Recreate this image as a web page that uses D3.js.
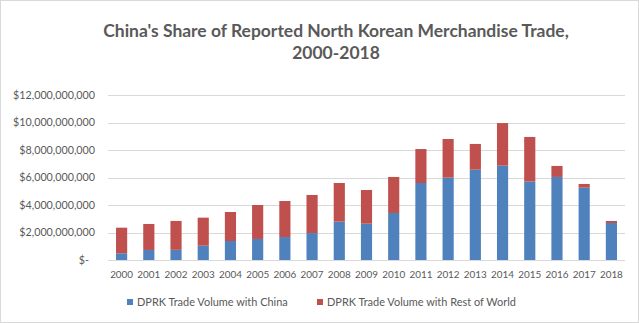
<!DOCTYPE html>
<html><head><meta charset="utf-8">
<script src="https://cdn.jsdelivr.net/npm/d3@7"></script>
<style>body{margin:0;background:#fff}svg{display:block}</style>
</head><body>
<script>
const years = ["2000","2001","2002","2003","2004","2005","2006","2007","2008","2009","2010","2011","2012","2013","2014","2015","2016","2017","2018"];
const chinaTrade = [0.49,0.73,0.74,1.04,1.38,1.53,1.67,1.96,2.79,2.64,3.42,5.60,5.99,6.57,6.86,5.70,6.04,5.26,2.69].map(v=>v*1e9);
const totalTrade = [2.35,2.62,2.84,3.08,3.49,4.00,4.29,4.73,5.60,5.09,6.04,8.07,8.80,8.44,9.96,8.95,6.84,5.53,2.84].map(v=>v*1e9);
const restTrade = totalTrade.map((t,i)=>t-chinaTrade[i]);
const yTicks = [0,2e9,4e9,6e9,8e9,10e9,12e9];
const seriesNames = ["DPRK Trade Volume with China","DPRK Trade Volume with Rest of World"];
const colors = ["#4F81BD","#C0504D"];

const W=639,H=323;
const svg=d3.select("body").append("svg").attr("width",W).attr("height",H);
svg.append("rect").attr("x",0.5).attr("y",0.5).attr("width",W-1).attr("height",H-1).attr("fill","#fff").attr("stroke","#D9D9D9");

const font="Lato, 'Open Sans', sans-serif";
const x=d3.scaleBand().domain(years).range([108,625]).paddingInner(0.59).paddingOuter(0.295);
const y=d3.scaleLinear().domain([0,12e9]).range([260,95]);

function fit(sel, target, base){
  const L=sel.node().getComputedTextLength();
  return base*target/L;
}

// gridlines
svg.append("g").selectAll("line").data(yTicks).join("line")
  .attr("x1",108).attr("x2",625).attr("y1",d=>Math.round(y(d))+0.5).attr("y2",d=>Math.round(y(d))+0.5)
  .attr("stroke","#D9D9D9").attr("stroke-width",1);

// y labels
const fmt=d=>d===0?"$-":"$"+d3.format(",")(d);
const yl=svg.append("g").selectAll("text").data(yTicks).join("text")
  .attr("x",d=>d===0?89:95).attr("y",d=>y(d)).attr("dy","0.35em").attr("text-anchor","end")
  .attr("font-family",font).attr("font-size",11).attr("fill","#595959").text(fmt);
const yfs=fit(yl.filter(d=>d===12e9),82,11);
yl.attr("font-size",yfs);

// stacked bars
const rows=years.map((yr,i)=>({year:yr,china:chinaTrade[i],rest:restTrade[i]}));
const stack=d3.stack().keys(["china","rest"])(rows);
svg.append("g").selectAll("g").data(stack).join("g").attr("fill",(d,i)=>colors[i])
  .selectAll("rect").data(d=>d).join("rect")
  .attr("x",d=>x(d.data.year)).attr("width",x.bandwidth())
  .attr("y",d=>y(d[1])).attr("height",d=>y(d[0])-y(d[1]));

// x labels
const xl=svg.append("g").selectAll("text").data(years).join("text")
  .attr("x",d=>x(d)+x.bandwidth()/2).attr("y",275).attr("dy","0.35em").attr("text-anchor","middle")
  .attr("font-family",font).attr("font-size",11).attr("fill","#595959").text(d=>d);
xl.attr("font-size",fit(xl.filter((d,i)=>i===0),23,11));

// title
const t1=svg.append("text").attr("x",336).attr("y",37).attr("text-anchor","middle")
  .attr("font-family",font).attr("font-weight","bold").attr("font-size",17.5).attr("fill","#595959")
  .text("China's Share of Reported North Korean Merchandise Trade,");
const t2=svg.append("text").attr("x",336).attr("y",59).attr("text-anchor","middle")
  .attr("font-family",font).attr("font-weight","bold").attr("font-size",17.5).attr("fill","#595959")
  .text("2000-2018");
const fs=fit(t1,466,17.5);
t1.attr("font-size",fs); t2.attr("font-size",fs);

// legend
const legX=[127,317];
const lg=svg.append("g").selectAll("g").data(seriesNames).join("g");
lg.append("rect").attr("x",(d,i)=>legX[i]).attr("y",299).attr("width",6).attr("height",6).attr("fill",(d,i)=>colors[i]);
const lt=lg.append("text").attr("x",(d,i)=>legX[i]+10).attr("y",302).attr("dy","0.35em")
  .attr("font-family",font).attr("font-size",11).attr("fill","#595959").text(d=>d);
lt.attr("font-size",fit(lt.filter((d,i)=>i===0),151,11));
</script>
</body></html>
